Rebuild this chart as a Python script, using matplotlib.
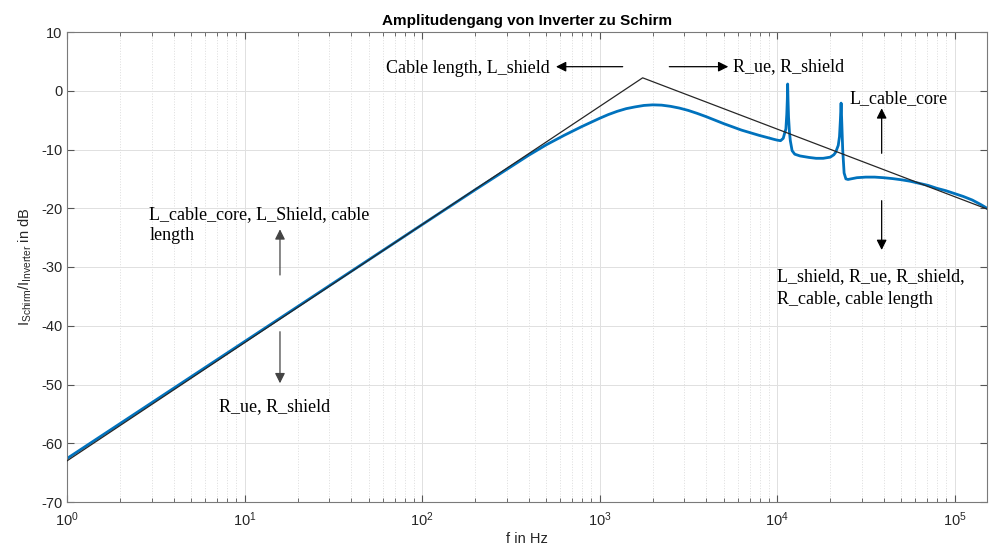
import numpy as np
import matplotlib
matplotlib.use("Agg")
import matplotlib.pyplot as plt
from matplotlib.ticker import LogLocator, NullFormatter

plt.rcParams['font.family'] = ['Liberation Sans', 'DejaVu Sans']
plt.rcParams['mathtext.fontset'] = 'custom'
plt.rcParams['mathtext.rm'] = 'Liberation Sans'
plt.rcParams['mathtext.it'] = 'Liberation Sans'
plt.rcParams['axes.unicode_minus'] = False

# Measured magnitude response: frequency as decade exponent (f = 10**exp Hz), magnitude in dB
freq_exp = [0.0, 0.5, 1.0, 1.5, 2.0, 2.3, 2.5, 2.6, 2.7, 2.8, 2.9, 3.0, 3.05,
            3.1, 3.15, 3.2, 3.25, 3.3, 3.35, 3.4, 3.45, 3.5, 3.55, 3.6, 3.65,
            3.7, 3.75, 3.8, 3.85, 3.9, 3.95, 3.98, 4.0, 4.02, 4.035, 4.045,
            4.05, 4.055, 4.058, 4.06, 4.062, 4.065, 4.07, 4.075, 4.085, 4.1,
            4.13, 4.18, 4.22, 4.26, 4.3, 4.32, 4.33, 4.345, 4.352, 4.357, 4.361,
            4.365, 4.37, 4.378, 4.388, 4.4, 4.45, 4.5, 4.55, 4.6, 4.65, 4.7,
            4.75, 4.8, 4.85, 4.9, 4.95, 5.0, 5.05, 5.1, 5.15, 5.183]
mag_db = [-62.6, -52.65, -42.7, -32.75, -22.8, -16.85, -12.95, -11.0, -9.2,
          -7.6, -6.1, -4.7, -4.05, -3.5, -3.05, -2.75, -2.5, -2.4, -2.45,
          -2.65, -2.95, -3.35, -3.85, -4.4, -5.0, -5.6, -6.15, -6.7, -7.15,
          -7.6, -8.0, -8.25, -8.4, -8.5, -8.1, -7.0, -6.5, -4.0, -1.5, 1.15,
          -1.5, -4.5, -7.0, -8.5, -10.2, -10.8, -11.1, -11.35, -11.5, -11.5,
          -11.3, -10.9, -10.5, -9.3, -7.8, -5.0, -2.1, -5.5, -10.0, -14.0,
          -15.0, -15.1, -14.8, -14.7, -14.7, -14.8, -14.95, -15.15, -15.4,
          -15.75, -16.1, -16.6, -17.0, -17.5, -18.0, -18.6, -19.4, -20.0]
freq_hz = [10 ** e for e in freq_exp]

# Straight-line asymptote: corner frequency and end points
asym_f = [1, 1750, 152405]
asym_db = [-63.0, 2.2, -20.13]

x_limits = (1, 152405)
y_limits = (-70, 10)
y_ticks = list(range(-70, 11, 10))

title = "Amplitudengang von Inverter zu Schirm"
x_label = "f in Hz"
y_label = r"$\mathregular{I_{Schirm}/I_{Inverter}}$ in dB"

fig = plt.figure(figsize=(9.91, 5.5), dpi=100)
ax = fig.add_axes([67 / 991, 48 / 550, 920 / 991, 470 / 550])

ax.semilogx(asym_f, asym_db, color='#262626', lw=0.9, zorder=3)
ax.semilogx(freq_hz, mag_db, color='#0072BD', lw=2.0, zorder=2,
            solid_joinstyle='round')

ax.set_xlim(*x_limits)
ax.set_ylim(*y_limits)
ax.set_yticks(y_ticks)
ax.xaxis.set_major_locator(LogLocator(base=10, numticks=10))
ax.xaxis.set_minor_locator(LogLocator(base=10, subs=np.arange(2, 10), numticks=20))
ax.xaxis.set_minor_formatter(NullFormatter())

ax.grid(True, which='major', color='#e0e0e0', lw=0.7)
ax.grid(True, which='minor', axis='x', color='#d8d8d8', lw=0.6, ls=(0, (1.2, 2)))
ax.set_axisbelow(True)

axis_col = '#262626'
for sp in ax.spines.values():
    sp.set_color('#7a7a7a')
    sp.set_linewidth(0.8)
ax.tick_params(which='both', direction='in', top=True, right=True,
               colors='#555555', labelcolor=axis_col, labelsize=10.5)
ax.tick_params(which='major', length=5)
ax.tick_params(which='minor', length=3)
ax.tick_params(axis='x', pad=6)

ax.set_title(title, fontsize=11, fontweight='bold', color='black', pad=5)
ax.set_xlabel(x_label, fontsize=10.5, color=axis_col, labelpad=2)
ax.set_ylabel(y_label, fontsize=10.5, color=axis_col, labelpad=5)

# Parameter-influence annotations
serif = dict(family=['Liberation Serif', 'DejaVu Serif'], fontsize=13, color='black')
arrow = dict(arrowstyle='-|>', color='black', lw=0.9, mutation_scale=15,
             shrinkA=0, shrinkB=0)
arrow_gray = dict(arrow, color='#444444')

def arr(tail, head, props=arrow):
    ax.annotate('', xy=head, xytext=tail, xycoords='axes fraction',
                textcoords='axes fraction', arrowprops=props)

ax.text(0.5245, 0.9213, "Cable length, L_shield", ha='right', va='center',
        transform=ax.transAxes, **serif)
arr((0.6040, 0.9262), (0.5315, 0.9262))
arr((0.6547, 0.9262), (0.7188, 0.9262))
ax.text(0.7243, 0.9255, "R_ue, R_shield", ha='left', va='center',
        transform=ax.transAxes, **serif)

ax.text(0.8511, 0.8574, "L_cable_core", ha='left', va='center',
        transform=ax.transAxes, **serif)
arr((0.8855, 0.7419), (0.8855, 0.8377))
arr((0.8855, 0.6411), (0.8855, 0.5362))
ax.text(0.7717, 0.4553, "L_shield, R_ue, R_shield,\nR_cable, cable length",
        ha='left', va='center', linespacing=1.4, transform=ax.transAxes, **serif)

ax.text(0.0895, 0.5894, "L_cable_core, L_Shield, cable\nlength", ha='left',
        va='center', linespacing=1.25, transform=ax.transAxes, **serif)
arr((0.2315, 0.4830), (0.2315, 0.5802), arrow_gray)
arr((0.2315, 0.3623), (0.2315, 0.2526), arrow_gray)
ax.text(0.1655, 0.2021, "R_ue, R_shield", ha='left', va='center',
        transform=ax.transAxes, **serif)

fig.savefig("out.png", dpi=100)
